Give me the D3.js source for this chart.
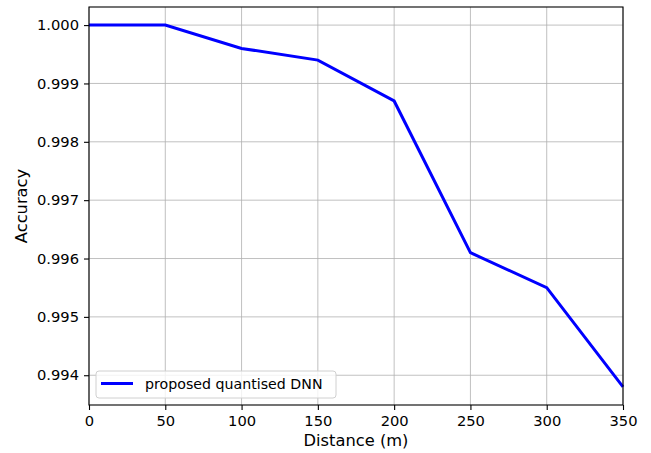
<!DOCTYPE html>
<html>
<head>
<meta charset="utf-8">
<script src="https://cdn.jsdelivr.net/npm/d3@7"></script>
<style>
  body { margin: 0; background: #fff; }
  svg { display: block; font-family: "DejaVu Sans", sans-serif; }
</style>
</head>
<body>
<svg id="chart" width="651" height="453"></svg>
<script>
// Accuracy versus distance
const distances = [0, 50, 100, 150, 200, 250, 300, 350];
const accuracy = [1.0000, 1.0000, 0.9996, 0.9994, 0.9987, 0.9961, 0.9955, 0.9938];
const xTicks = [0, 50, 100, 150, 200, 250, 300, 350];
const yTicks = [0.994, 0.995, 0.996, 0.997, 0.998, 0.999, 1.000];
const seriesName = "proposed quantised DNN";

const svg = d3.select("#chart");
const margin = { left: 89, right: 28, top: 7, bottom: 48 };
const W = 651, H = 453;
const pw = W - margin.left - margin.right;
const ph = H - margin.top - margin.bottom;

const x = d3.scaleLinear().domain([0, 350]).range([0, pw]);
const yMin = d3.min(accuracy), yMax = d3.max(accuracy);
const pad = (yMax - yMin) * 0.05;
const y = d3.scaleLinear().domain([yMin - pad, yMax + pad]).range([ph, 0]);

const g = svg.append("g").attr("transform", `translate(${margin.left},${margin.top})`);

// grid
g.append("g").selectAll("line").data(xTicks).join("line")
  .attr("x1", d => x(d)).attr("x2", d => x(d)).attr("y1", 0).attr("y2", ph)
  .attr("stroke", "#b0b0b0").attr("stroke-width", 0.8);
g.append("g").selectAll("line").data(yTicks).join("line")
  .attr("y1", d => y(d)).attr("y2", d => y(d)).attr("x1", 0).attr("x2", pw)
  .attr("stroke", "#b0b0b0").attr("stroke-width", 0.8);

// line
const line = d3.line().x((d, i) => x(distances[i])).y(d => y(d));
g.append("path").datum(accuracy)
  .attr("d", line).attr("fill", "none").attr("stroke", "#0000ff")
  .attr("stroke-width", 3).attr("stroke-linejoin", "miter");

// frame
g.append("rect").attr("width", pw).attr("height", ph)
  .attr("fill", "none").attr("stroke", "#000").attr("stroke-width", 1.1);

// axes
const xAxis = g.append("g").attr("transform", `translate(0,${ph})`)
  .call(d3.axisBottom(x).tickValues(xTicks).tickSize(5).tickPadding(6).tickFormat(d3.format("d")));
const yAxis = g.append("g")
  .call(d3.axisLeft(y).tickValues(yTicks).tickSize(5).tickPadding(5).tickFormat(d3.format(".3f")));
[xAxis, yAxis].forEach(a => {
  a.select(".domain").remove();
  a.selectAll(".tick line").attr("stroke", "#000").attr("stroke-width", 1.1);
  a.selectAll(".tick text").attr("fill", "#000").style("font-size", "14.7px")
    .style("font-family", "'DejaVu Sans', sans-serif");
});

// axis labels
svg.append("text").attr("x", margin.left + pw / 2).attr("y", 446)
  .attr("text-anchor", "middle").style("font-size", "16.3px").text("Distance (m)");
svg.append("text").attr("transform", `translate(27,${margin.top + ph / 2}) rotate(-90)`)
  .attr("text-anchor", "middle").style("font-size", "16.3px").text("Accuracy");

// legend
const lg = g.append("g").attr("transform", `translate(7,${ph - 34})`);
lg.append("rect").attr("width", 240).attr("height", 27).attr("rx", 3)
  .attr("fill", "#fff").attr("fill-opacity", 0.8).attr("stroke", "#d0d0d0").attr("stroke-width", 1);
lg.append("line").attr("x1", 5).attr("x2", 37).attr("y1", 12.5).attr("y2", 12.5)
  .attr("stroke", "#0000ff").attr("stroke-width", 3);
lg.append("text").attr("x", 49).attr("y", 18).style("font-size", "14.2px").text(seriesName);
</script>
</body>
</html>
